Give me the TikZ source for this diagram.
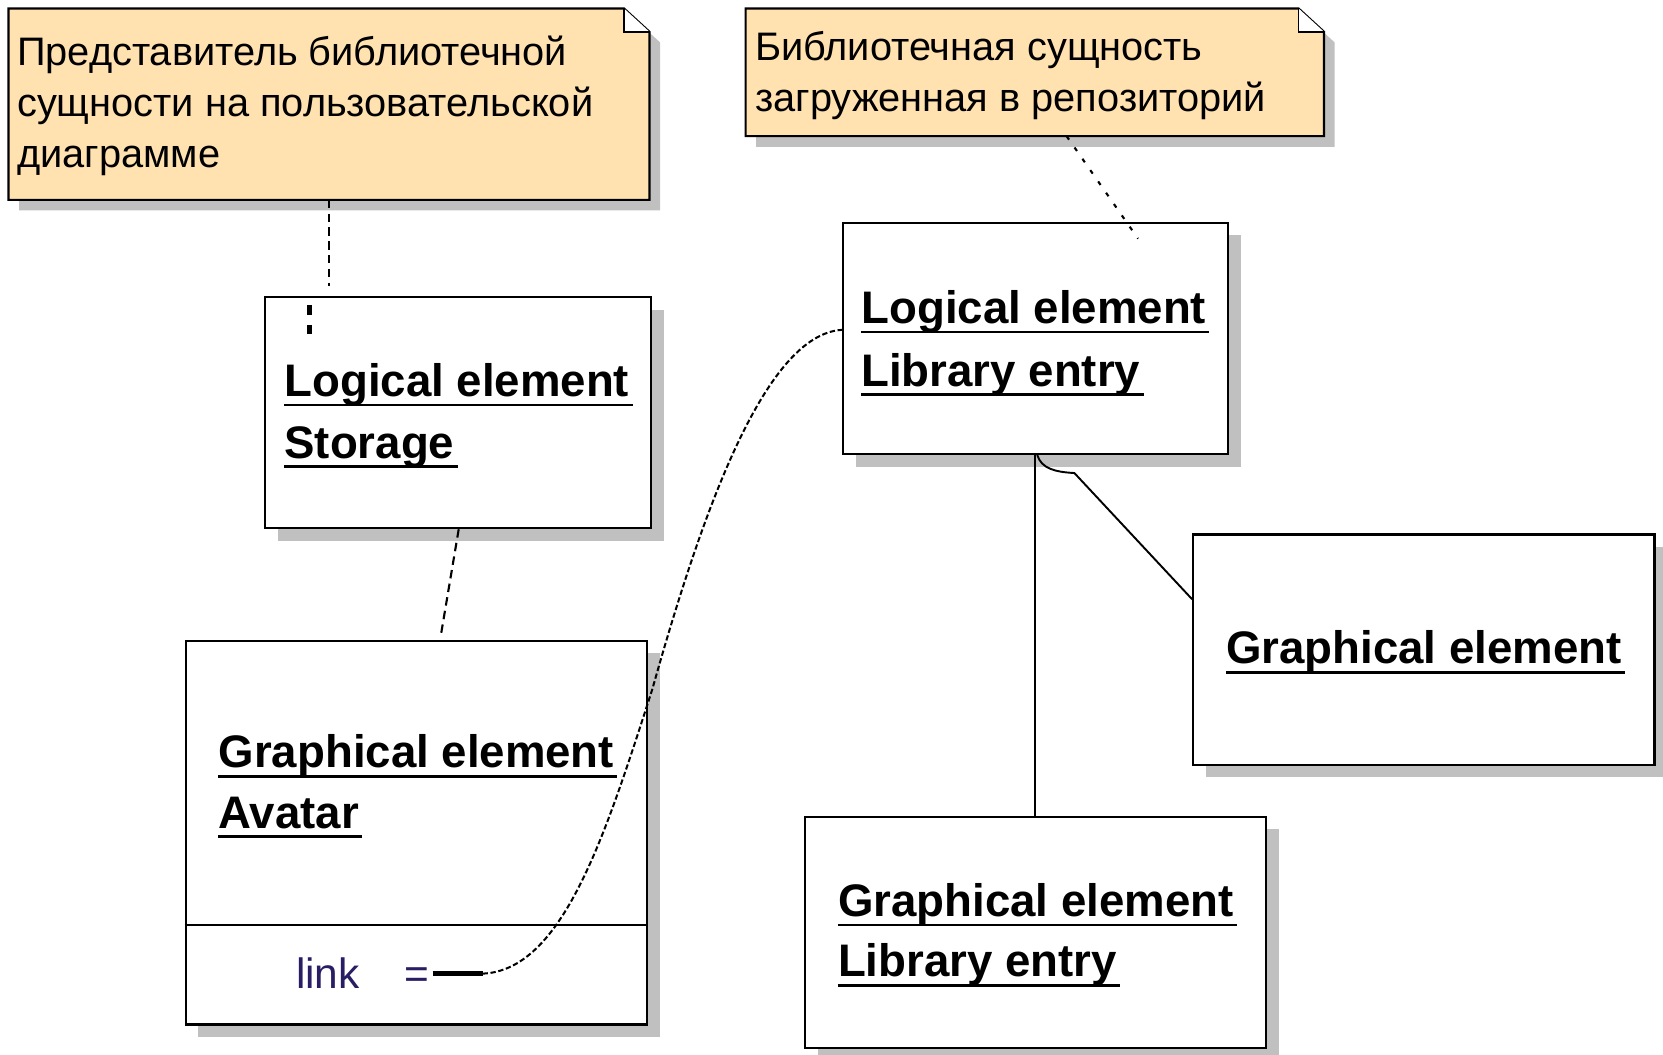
\documentclass[tikz,border=0pt]{standalone}
\usepackage{fontspec}
\setmainfont{Liberation Sans}
\usetikzlibrary{shadows}
\definecolor{notefill}{RGB}{255,226,176}
\definecolor{shadowgray}{RGB}{192,192,192}
\definecolor{linkcol}{RGB}{40,30,100}
\begin{document}
\begin{tikzpicture}[x=1pt,y=-1pt,
  objbox/.style={draw=black, line width=2pt, fill=white, rectangle, inner sep=0pt, anchor=north west,
     general shadow={fill=shadowgray, shadow xshift=12pt, shadow yshift=-12pt}},
  noteframe/.style={rectangle, inner sep=0pt, anchor=north west},
  notetext/.style={font=\fontsize{37.5}{48}\selectfont, inner sep=0pt, anchor=base west},
  nm/.style={font=\fontsize{43}{50}\selectfont\bfseries, inner sep=0pt, anchor=base west},
  ul/.style={line width=2.5pt},
  dashA/.style={line width=2pt, dash pattern=on 8pt off 5pt},
  dashB/.style={line width=2pt, dash pattern=on 4pt off 9pt},
  dashC/.style={line width=1.9pt, dash pattern=on 5pt off 2.5pt},
  conn/.style={line width=1.8pt}
]
\useasboundingbox (0,0) rectangle (1568,994);

% ---------- note 1 ----------
\node[noteframe, minimum width=604pt, minimum height=180pt] (n1) at (8,8) {};
\fill[shadowgray] ([xshift=10pt,yshift=-10pt]n1.north west) -- ([xshift=-14pt,yshift=-10pt]n1.north east)
  -- ([xshift=10pt,yshift=-32pt]n1.north east) -- ([xshift=10pt,yshift=-10pt]n1.south east)
  -- ([xshift=10pt,yshift=-10pt]n1.south west) -- cycle;
\draw[line width=2pt, fill=notefill] (n1.north west) -- ([xshift=-24pt]n1.north east)
  -- ([yshift=-22pt]n1.north east) -- (n1.south east) -- (n1.south west) -- cycle;
\draw[line width=1.5pt, fill=white] ([xshift=-24pt]n1.north east) -- ([xshift=-24pt,yshift=-22pt]n1.north east)
  -- ([yshift=-22pt]n1.north east);
\node[notetext] (n1a) at (16,62) {Представитель библиотечной};
\node[notetext] (n1b) at (16,110) {сущности на пользовательской};
\node[notetext] (n1c) at (16,158) {диаграмме};

% ---------- note 2 ----------
\node[noteframe, minimum width=545pt, minimum height=120pt] (n2) at (703,8) {};
\fill[shadowgray] ([xshift=10pt,yshift=-10pt]n2.north west) -- ([xshift=-14pt,yshift=-10pt]n2.north east)
  -- ([xshift=10pt,yshift=-32pt]n2.north east) -- ([xshift=10pt,yshift=-10pt]n2.south east)
  -- ([xshift=10pt,yshift=-10pt]n2.south west) -- cycle;
\draw[line width=2pt, fill=notefill] (n2.north west) -- ([xshift=-24pt]n2.north east)
  -- ([yshift=-22pt]n2.north east) -- (n2.south east) -- (n2.south west) -- cycle;
\draw[line width=1.5pt, fill=white] ([xshift=-24pt]n2.north east) -- ([xshift=-24pt,yshift=-22pt]n2.north east)
  -- ([yshift=-22pt]n2.north east);
\node[notetext] (n2a) at (712,57) {Библиотечная сущность};
\node[notetext] (n2b) at (712,105) {загруженная в репозиторий};

% ---------- boxes ----------
\node[objbox, minimum width=364pt, minimum height=218pt] (st) at (249,279) {};
\node[objbox, minimum width=363pt, minimum height=218pt] (ll) at (794,209) {};
\node[objbox, minimum width=435pt, minimum height=362pt] (ga) at (174,603) {};
\node[objbox, minimum width=435pt, minimum height=217pt] (gr) at (1124,503) {};
\node[objbox, minimum width=435pt, minimum height=218pt] (gl) at (758,769) {};

% separator in avatar box
\coordinate (sepL) at (174,872);
\draw[line width=2pt] (sepL) -- (sepL -| ga.east);

% colon in storage box
\fill (289,288) rectangle (294,297);
\fill (289,306) rectangle (294,315);

% ---------- texts ----------
\node[nm] (st1) at (268,374) {Logical element};
\node[nm] (st2) at (268,432) {Storage};
\node[nm] (ll1) at (812,305) {Logical element};
\node[nm] (ll2) at (812,364) {Library entry};
\node[nm] (ga1) at (206,724) {Graphical element};
\node[nm] (ga2) at (206,781) {Avatar};
\node[nm] (gr1) at (1156,626) {Graphical element};
\node[nm] (gl1) at (790,864) {Graphical element};
\node[nm] (gl2) at (790,921) {Library entry};
\foreach \t in {st1,st2,ll1,ll2,ga1,ga2,gr1,gl1,gl2}{
  \draw[ul] ([yshift=-8pt]\t.base west) -- ([yshift=-8pt,xshift=3pt]\t.base east);
}
\node[font=\fontsize{40}{48}\selectfont, text=linkcol, inner sep=0pt, anchor=base west] (lk) at (279,932) {link};
\node[font=\fontsize{40}{48}\selectfont, text=linkcol, inner sep=0pt, anchor=base west] (eq) at (381,932) {=};

% ---------- connectors ----------
\coordinate (n1end) at (310,270);
\draw[dashA] (n1.south -| n1end) -- (n1end);
\coordinate (n2end) at (1073,225);
\draw[dashB] ([xshift=30pt]n2.south) -- (n2end);
\draw[dashA] ([xshift=0.5pt]st.south) -- ([xshift=0.5pt,yshift=3pt]ga.north -| 415,0);
\coordinate (lkA) at (408,918);
\coordinate (lkB) at (455,918);
\draw[line width=4.5pt] (lkA) -- (lkB);
\draw[dashC] (lkB) .. controls (530,915) and (570,790) .. (615,650)
  .. controls (660,490) and (720,315) .. (ll.west |- 0,311);
\draw[conn] (ll.south -| 976,0) -- (gl.north -| 976,0);
\draw[conn] (ll.south -| 978,0) .. controls (982,442) and (995,445) .. (1013,446) -- (gr.west |- 0,565);
\end{tikzpicture}
\end{document}
